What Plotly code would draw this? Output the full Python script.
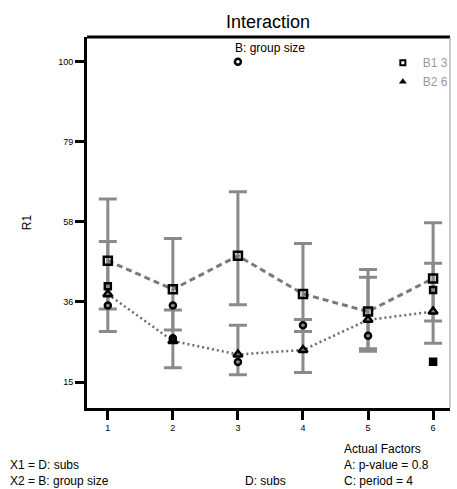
import plotly.graph_objects as go

# Factor D: subs levels
subs = [1, 2, 3, 4, 5, 6]

# Predicted R1 for each level of B: group size
b1_mean = [47.2, 39.6, 48.5, 38.4, 33.7, 42.5]
b2_mean = [38.3, 25.9, 22.3, 23.5, 31.5, 33.7]

# LSD bar ends
b1_low = [34.4, 28.8, 35.5, 28.4, 23.8, 31.2]
b1_high = [63.6, 53.1, 65.5, 51.8, 44.9, 57.3]
b2_low = [28.4, 18.8, 16.9, 17.5, 23.2, 25.3]
b2_high = [52.3, 34.1, 30.1, 31.6, 42.8, 46.5]

# Observed design points
design_x = [1, 1, 2, 2, 3, 3, 4, 5, 6, 6]
design_y = [40.4, 35.3, 35.3, 26.6, 100.0, 20.3, 30.1, 27.3, 39.4, 20.4]
design_sym = ["square-open", "circle-open", "circle-open", "circle-open", "circle-open",
              "circle-open", "circle-open", "circle-open", "square-open", "square"]

y_tickvals = [15, 36.25, 57.5, 78.75, 100]
y_ticktext = ["15", "36", "58", "79", "100"]

BAR = "#8a8a8a"
FONT = "Liberation Sans, Arial"

fig = go.Figure()


def lsd_bars(low, high):
    mid = [(l + h) / 2 for l, h in zip(low, high)]
    half = [(h - l) / 2 for l, h in zip(low, high)]
    return go.Scatter(
        x=subs, y=mid, mode="markers", marker=dict(size=1, opacity=0),
        error_y=dict(type="data", array=half, visible=True, color=BAR,
                     thickness=3, width=9),
        showlegend=False, hoverinfo="skip")


fig.add_trace(lsd_bars(b1_low, b1_high))
fig.add_trace(lsd_bars(b2_low, b2_high))

fig.add_trace(go.Scatter(
    x=subs, y=b1_mean, mode="lines+markers", name="B1 3",
    line=dict(color="#7a7a7a", width=3, dash="6px,4px"),
    marker=dict(symbol="square-open", size=8, color="black",
                line=dict(width=2.5, color="black")),
    showlegend=False))
fig.add_trace(go.Scatter(
    x=subs, y=b2_mean, mode="lines+markers", name="B2 6",
    line=dict(color="#6a6a6a", width=2.5, dash="2px,3px"),
    marker=dict(symbol="triangle-up-open", size=8, color="black",
                line=dict(width=2.5, color="black")),
    showlegend=False))

fig.add_trace(go.Scatter(
    x=design_x, y=design_y, mode="markers",
    marker=dict(symbol=design_sym, size=6, color="black",
                line=dict(width=2.5, color="black")),
    showlegend=False))

# legend entries
fig.add_trace(go.Scatter(
    x=[None], y=[None], mode="markers", name="B1 3",
    marker=dict(symbol="square-open", size=5, color="black",
                line=dict(width=2, color="black"))))
fig.add_trace(go.Scatter(
    x=[None], y=[None], mode="markers", name="B2 6",
    marker=dict(symbol="triangle-up", size=7, color="black")))

axis_font = dict(family=FONT, size=9, color="black")

fig.update_xaxes(
    range=[0.68, 6.26], tickvals=subs, ticktext=[str(s) for s in subs],
    showline=True, linecolor="black", linewidth=3, mirror=False,
    ticks="outside", ticklen=9, tickwidth=2.5, tickcolor="black",
    showgrid=False, zeroline=False, tickfont=axis_font)
fig.update_yaxes(
    range=[8.1, 106.6], tickvals=y_tickvals, ticktext=y_ticktext,
    showline=True, linecolor="black", linewidth=3,
    ticks="outside", ticklen=9, tickwidth=2.5, tickcolor="black",
    showgrid=False, zeroline=False, tickfont=axis_font,
    title=dict(text="R1", font=dict(family=FONT, size=12, color="black"),
               standoff=24))

fig.add_shape(type="line", xref="paper", yref="paper", x0=0, x1=1, y0=1, y1=1,
              line=dict(color="black", width=3))
fig.add_shape(type="line", xref="paper", yref="paper", x0=1, x1=1, y0=0, y1=1,
              line=dict(color="#9a9a9a", width=1))

txt = dict(family=FONT, size=12, color="black")
notes = [
    dict(text="Interaction", x=270, y=22, font=dict(family=FONT, size=18, color="black"), xanchor="center"),
    dict(text="B: group size", x=272, y=48, font=dict(family=FONT, size=12, color="black"), xanchor="center"),
    dict(text="X1 = D: subs", x=7, y=465, font=txt, xanchor="left"),
    dict(text="X2 = B: group size", x=7, y=481, font=txt, xanchor="left"),
    dict(text="D: subs", x=245, y=481, font=txt, xanchor="left"),
    dict(text="Actual Factors", x=345, y=449, font=txt, xanchor="left"),
    dict(text="A: p-value = 0.8", x=345, y=465, font=txt, xanchor="left"),
    dict(text="C: period = 4", x=345, y=481, font=txt, xanchor="left"),
]
W, H = 457, 489
for n in notes:
    fig.add_annotation(text=n["text"], xref="paper", yref="paper",
                       x=(n["x"] - 87) / (454 - 87), y=(408 - n["y"]) / (408 - 37),
                       xanchor=n["xanchor"], yanchor="middle", showarrow=False,
                       font=n["font"])

fig.update_layout(
    width=W, height=H,
    margin=dict(l=87, r=3, t=37, b=81),
    paper_bgcolor="white", plot_bgcolor="white",
    showlegend=True,
    legend=dict(x=0.815, y=0.97, xanchor="left", yanchor="top",
                bgcolor="rgba(0,0,0,0)", font=dict(family=FONT, size=12, color="#999999"),
                itemwidth=30, tracegroupgap=0),
)

fig.write_html("out.html")
